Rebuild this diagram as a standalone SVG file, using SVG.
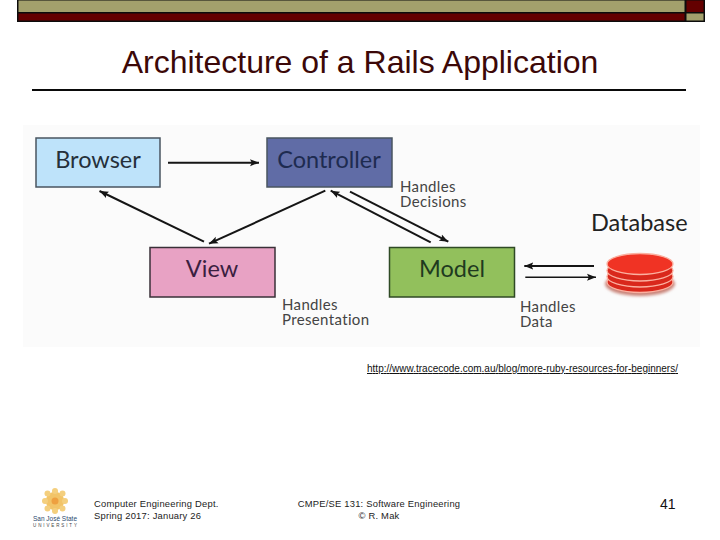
<svg xmlns="http://www.w3.org/2000/svg" width="720" height="540" viewBox="0 0 720 540">
<style>
text{font-family:"Liberation Sans",Arial,sans-serif}
.d{font-family:Lato,"Open Sans",sans-serif;fill:#25303a}
.box{font-size:23.5px;text-anchor:middle}
.note{font-size:15px;fill:#444;letter-spacing:.35px}
.f{font-size:9.4px;fill:#222;letter-spacing:.22px}
.c{stroke:#151515;stroke-width:2;fill:none;marker-end:url(#a)}
.n{stroke:#4a5560;stroke-width:1.5}
.disk{fill:#d9281c;stroke:#fbb0a0;stroke-width:1.3}
</style>
<defs>
<marker id="a" markerUnits="userSpaceOnUse" markerWidth="10" markerHeight="8" refX="9" refY="4" orient="auto"><path d="M0 .5L9 4L0 7.500L1.800 4Z" fill="#151515"/></marker>
<filter id="b" x="-20%" y="-30%" width="140%" height="160%"><feGaussianBlur stdDeviation="1.800"/></filter>
</defs>
<rect width="720" height="540" fill="#fff"/>
<g id="topbar">
<rect x="17" y="0" width="688" height="22" fill="#0c0c0c"/>
<rect x="18.500" y="0.500" width="666" height="11.500" fill="#a3a06c"/>
<rect x="18.500" y="13.500" width="666" height="7" fill="#640000"/>
<rect x="686.500" y="0.500" width="17" height="11.500" fill="#640000"/>
<rect x="686.500" y="13.500" width="17" height="7" fill="#a3a06c"/>
</g>
<text id="title" x="360" y="73" font-size="32" text-anchor="middle" fill="#3c0808">Architecture of a Rails Application</text>
<rect x="32" y="89" width="654" height="2" fill="#0a0a0a"/>
<rect x="23" y="125" width="677" height="222" fill="#fbfbfb"/>
<g id="browser"><rect class="n" x="36" y="138" width="124" height="49" fill="#bee3fa"/><text class="d box" x="98" y="168">Browser</text></g>
<g id="controller"><rect class="n" x="267" y="138" width="125" height="49" fill="#606ca6"/><text class="d box" x="329" y="168" style="fill:#1e2b50">Controller</text></g>
<g id="view"><rect class="n" x="150" y="247.500" width="125" height="49.500" fill="#e8a2c4" style="stroke:#3a3038"/><text class="d box" x="212" y="277" style="fill:#3a2040">View</text></g>
<g id="model"><rect class="n" x="389.500" y="247.500" width="125" height="49.500" fill="#92c05c" style="stroke:#2f4a25"/><text class="d box" x="452" y="277" style="fill:#1f3a1f">Model</text></g>
<g id="connectors">
<path class="c" d="M168 162.700H259"/>
<path class="c" d="M204 241.700L99.500 191"/>
<path class="c" d="M325.300 190.700L209 243.700"/>
<path class="c" d="M430.700 242.300L330.700 190.700"/>
<path class="c" d="M350 191.700L448.300 241.700"/>
<path class="c" d="M594 266H524.300"/>
<path class="c" d="M525.300 277.300H596" style="stroke-width:1.500"/>
</g>
<g id="database">
<text class="d" x="591" y="231" font-size="23.500" style="fill:#222">Database</text>
<ellipse cx="640" cy="284" rx="35" ry="12" fill="#c98378" filter="url(#b)"/>
<ellipse class="disk" cx="640" cy="282" rx="33" ry="10.500"/>
<ellipse class="disk" cx="640" cy="276.500" rx="33" ry="10.500"/>
<ellipse class="disk" cx="640" cy="270.500" rx="33" ry="10.500"/>
<ellipse class="disk" cx="640" cy="264" rx="33" ry="10.500" style="fill:#f03324"/>
</g>
<g id="labels">
<text class="d note" x="400" y="192">Handles<tspan x="400" dy="15">Decisions</tspan></text>
<text class="d note" x="282" y="310">Handles<tspan x="282" dy="15">Presentation</tspan></text>
<text class="d note" x="520" y="312">Handles<tspan x="520" dy="15">Data</tspan></text>
</g>
<text id="source" x="367" y="372" font-size="10" fill="#111" text-decoration="underline" textLength="311" lengthAdjust="spacing">http://www.tracecode.com.au/blog/more-ruby-resources-for-beginners/</text>
<g id="logo">
<g fill="#f4cf7e">
<rect x="46.500" y="492.500" width="17" height="17" transform="rotate(45 55 501)"/>
<rect x="47" y="493" width="16" height="16" fill="#f2c468"/>
<circle cx="55" cy="491" r="3"/><circle cx="55" cy="511" r="3"/><circle cx="45" cy="501" r="3"/><circle cx="65" cy="501" r="3"/>
<circle cx="47.500" cy="493.500" r="3"/><circle cx="62.500" cy="493.500" r="3"/><circle cx="47.500" cy="508.500" r="3"/><circle cx="62.500" cy="508.500" r="3"/>
</g>
<circle cx="55" cy="501" r="3.500" fill="#eea040"/>
<text x="55" y="521" font-size="8" text-anchor="middle" fill="#2a4a70" textLength="44" lengthAdjust="spacingAndGlyphs">San José State</text>
<text x="55" y="527" font-size="4.500" text-anchor="middle" fill="#444" textLength="44">UNIVERSITY</text>
</g>
<g id="footer">
<text class="f" x="94" y="507">Computer Engineering Dept.</text>
<text class="f" x="94" y="519">Spring 2017: January 26</text>
<text class="f" x="379" y="507" text-anchor="middle">CMPE/SE 131: Software Engineering</text>
<text class="f" x="379" y="519" text-anchor="middle">© R. Mak</text>
<text x="660" y="509" font-size="14" fill="#111">41</text>
</g>
</svg>
